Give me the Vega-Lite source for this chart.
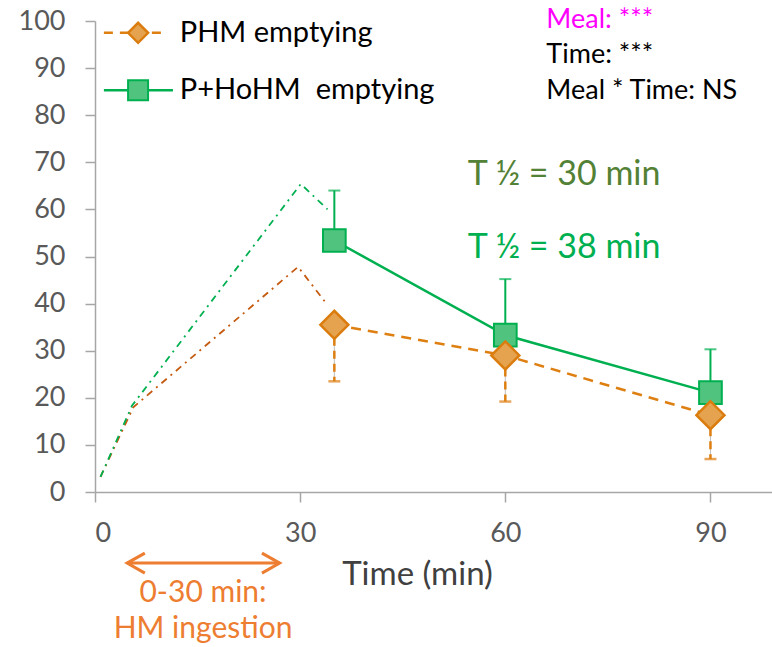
{
  "$schema": "https://vega.github.io/schema/vega-lite/v6.json",
  "width": 677,
  "height": 471,
  "autosize": {"type": "none"},
  "padding": {"left": 95, "top": 21, "right": 0, "bottom": 155},
  "background": "white",
  "config": {
    "view": {"stroke": null},
    "font": "Lato",
    "axis": {
      "grid": false, "domain": true, "ticks": true,
      "domainColor": "#A6A6A6", "domainWidth": 1.5,
      "tickColor": "#A6A6A6", "tickWidth": 1.5, "tickSize": 10,
      "labelColor": "#595959", "labelFont": "Lato", "labelFontSize": 27,
      "titleFont": "Lato", "titleFontWeight": "normal", "titleColor": "#404040"
    },
    "axisX": {"labelPadding": 18},
    "axisY": {"labelPadding": 20}
  },
  "datasets": {
    "early": [
      {"series": "PHM", "t": 0.8, "v": 3.2},
      {"series": "PHM", "t": 5.6, "v": 18},
      {"series": "PHM", "t": 29.7, "v": 47.8},
      {"series": "PHM", "t": 34, "v": 39.7},
      {"series": "P+HoHM", "t": 0.8, "v": 3.2},
      {"series": "P+HoHM", "t": 5.4, "v": 18.3},
      {"series": "P+HoHM", "t": 30.1, "v": 65.4},
      {"series": "P+HoHM", "t": 34, "v": 60}
    ],
    "main": [
      {"series": "PHM", "t": 35, "v": 35.5, "err": 23.5},
      {"series": "PHM", "t": 60, "v": 29, "err": 19.2},
      {"series": "PHM", "t": 90, "v": 16.3, "err": 7},
      {"series": "P+HoHM", "t": 35, "v": 53.4, "err": 64},
      {"series": "P+HoHM", "t": 60, "v": 33.3, "err": 45.2},
      {"series": "P+HoHM", "t": 90, "v": 21.1, "err": 30.3}
    ],
    "caps": [
      {"series": "PHM", "t": 35, "v": 23.5},
      {"series": "PHM", "t": 60, "v": 19.2},
      {"series": "PHM", "t": 90, "v": 7},
      {"series": "P+HoHM", "t": 35, "v": 64},
      {"series": "P+HoHM", "t": 60, "v": 45.2},
      {"series": "P+HoHM", "t": 90, "v": 30.3}
    ],
    "legendLines": [
      {"series": "PHM", "t": 1.3, "t2": 10.5, "v": 97.5},
      {"series": "P+HoHM", "t": 1.3, "t2": 11.4, "v": 85.3}
    ],
    "legendMarks": [
      {"series": "PHM", "t": 6.3, "v": 97.5},
      {"series": "P+HoHM", "t": 6.3, "v": 85.3}
    ],
    "legendText": [
      {"t": 12.4, "v": 97.5, "label": "PHM emptying"},
      {"t": 12.4, "v": 85.3, "label": "P+HoHM\u00a0\u00a0emptying"}
    ],
    "stats": [
      {"t": 66, "v": 100.2, "label": "Meal: ***", "kind": "meal"},
      {"t": 66, "v": 92.8, "label": "Time: ***", "kind": "other"},
      {"t": 66, "v": 85.1, "label": "Meal * Time: NS", "kind": "other"}
    ],
    "thalf": [
      {"t": 54.5, "v": 67.3, "label": "T ½ = 30 min", "series": "PHM"},
      {"t": 54.5, "v": 51.8, "label": "T ½ = 38 min", "series": "P+HoHM"}
    ],
    "arrow": [
      {"t": 4.7, "t2": 27, "v": -15.1}
    ],
    "arrowLeft": [
      {"t": 4.7, "v": -15.1}
    ],
    "arrowRight": [
      {"t": 27, "v": -15.1}
    ],
    "ingest": [
      {"t": 15.8, "v": -21.4, "label": "0-30 min:"},
      {"t": 15.8, "v": -29.1, "label": "HM ingestion"}
    ]
  },
  "encoding": {
    "x": {
      "field": "t", "type": "quantitative",
      "scale": {"domain": [0, 99], "nice": false, "zero": false},
      "axis": {
        "values": [0, 30, 60, 90],
        "title": "Time (min)", "titleFontSize": 33,
        "titleX": 322, "titleY": 92, "titleBaseline": "alphabetic", "titleAnchor": "middle", "titleAlign": "center"
      }
    },
    "y": {
      "field": "v", "type": "quantitative",
      "scale": {"domain": [0, 100], "nice": false, "zero": false},
      "axis": {
        "values": [0, 10, 20, 30, 40, 50, 60, 70, 80, 90, 100], "title": null
      }
    }
  },
  "layer": [
    {
      "data": {"name": "early"},
      "transform": [{"filter": "datum.series == 'PHM'"}],
      "mark": {"type": "line", "color": "#C55A11", "strokeWidth": 1.8, "strokeDash": [7, 5, 2, 5]}
    },
    {
      "data": {"name": "early"},
      "transform": [{"filter": "datum.series == 'P+HoHM'"}],
      "mark": {"type": "line", "color": "#00B050", "strokeWidth": 1.8, "strokeDash": [7, 5, 2, 5]}
    },
    {
      "data": {"name": "main"},
      "transform": [{"filter": "datum.series == 'PHM'"}],
      "mark": {"type": "rule", "color": "#BFBFBF", "strokeWidth": 1},
      "encoding": {"y2": {"field": "err"}}
    },
    {
      "data": {"name": "main"},
      "transform": [{"filter": "datum.series == 'PHM'"}],
      "mark": {"type": "rule", "color": "#DE7F12", "strokeWidth": 2.5, "strokeDash": [8, 5]},
      "encoding": {"y2": {"field": "err"}}
    },
    {
      "data": {"name": "caps"},
      "transform": [{"filter": "datum.series == 'PHM'"}],
      "mark": {"type": "tick", "orient": "horizontal", "color": "#DE7F12", "size": 12, "thickness": 2.5}
    },
    {
      "data": {"name": "main"},
      "transform": [{"filter": "datum.series == 'P+HoHM'"}],
      "mark": {"type": "rule", "color": "#00B050", "strokeWidth": 2},
      "encoding": {"y2": {"field": "err"}}
    },
    {
      "data": {"name": "caps"},
      "transform": [{"filter": "datum.series == 'P+HoHM'"}],
      "mark": {"type": "tick", "orient": "horizontal", "color": "#00B050", "size": 12, "thickness": 2}
    },
    {
      "data": {"name": "main"},
      "transform": [{"filter": "datum.series == 'PHM'"}],
      "mark": {"type": "line", "color": "#DE7F12", "strokeWidth": 2.5, "strokeDash": [10, 7]}
    },
    {
      "data": {"name": "main"},
      "transform": [{"filter": "datum.series == 'P+HoHM'"}],
      "mark": {"type": "line", "color": "#00B050", "strokeWidth": 2.5}
    },
    {
      "data": {"name": "main"},
      "transform": [{"filter": "datum.series == 'P+HoHM'"}],
      "mark": {"type": "point", "shape": "square", "filled": true, "size": 515, "fill": "#50C47F", "stroke": "#00B050", "strokeWidth": 2, "opacity": 1}
    },
    {
      "data": {"name": "main"},
      "transform": [{"filter": "datum.series == 'PHM'"}],
      "mark": {"type": "point", "shape": "diamond", "filled": true, "size": 784, "fill": "#E5A350", "stroke": "#DB7C0E", "strokeWidth": 2.5, "opacity": 1}
    },
    {
      "data": {"name": "legendLines"},
      "transform": [{"filter": "datum.series == 'PHM'"}],
      "mark": {"type": "rule", "color": "#DE7F12", "strokeWidth": 2.5, "strokeDash": [9, 7]},
      "encoding": {"x2": {"field": "t2"}}
    },
    {
      "data": {"name": "legendLines"},
      "transform": [{"filter": "datum.series == 'P+HoHM'"}],
      "mark": {"type": "rule", "color": "#00B050", "strokeWidth": 2.5},
      "encoding": {"x2": {"field": "t2"}}
    },
    {
      "data": {"name": "legendMarks"},
      "transform": [{"filter": "datum.series == 'PHM'"}],
      "mark": {"type": "point", "shape": "diamond", "filled": true, "size": 400, "fill": "#E5A350", "stroke": "#DB7C0E", "strokeWidth": 2.5, "opacity": 1}
    },
    {
      "data": {"name": "legendMarks"},
      "transform": [{"filter": "datum.series == 'P+HoHM'"}],
      "mark": {"type": "point", "shape": "square", "filled": true, "size": 400, "fill": "#50C47F", "stroke": "#00B050", "strokeWidth": 2, "opacity": 1}
    },
    {
      "data": {"name": "legendText"},
      "mark": {"type": "text", "align": "left", "baseline": "middle", "font": "Lato", "fontSize": 29, "color": "#000000"},
      "encoding": {"text": {"field": "label"}}
    },
    {
      "data": {"name": "stats"},
      "transform": [{"filter": "datum.kind == 'meal'"}],
      "mark": {"type": "text", "align": "left", "baseline": "middle", "font": "Lato", "fontSize": 27, "color": "#FF00FF"},
      "encoding": {"text": {"field": "label"}}
    },
    {
      "data": {"name": "stats"},
      "transform": [{"filter": "datum.kind == 'other'"}],
      "mark": {"type": "text", "align": "left", "baseline": "middle", "font": "Lato", "fontSize": 27, "color": "#000000"},
      "encoding": {"text": {"field": "label"}}
    },
    {
      "data": {"name": "thalf"},
      "transform": [{"filter": "datum.series == 'PHM'"}],
      "mark": {"type": "text", "align": "left", "baseline": "middle", "font": "Lato", "fontSize": 34, "color": "#538135"},
      "encoding": {"text": {"field": "label"}}
    },
    {
      "data": {"name": "thalf"},
      "transform": [{"filter": "datum.series == 'P+HoHM'"}],
      "mark": {"type": "text", "align": "left", "baseline": "middle", "font": "Lato", "fontSize": 34, "color": "#00B050"},
      "encoding": {"text": {"field": "label"}}
    },
    {
      "data": {"name": "arrow"},
      "mark": {"type": "rule", "color": "#ED7D31", "strokeWidth": 3},
      "encoding": {"x2": {"field": "t2"}}
    },
    {
      "data": {"name": "arrowLeft"},
      "mark": {"type": "point", "shape": "M1.77,-1L0,0L1.77,1", "filled": false, "size": 400, "stroke": "#ED7D31", "strokeWidth": 3, "opacity": 1}
    },
    {
      "data": {"name": "arrowRight"},
      "mark": {"type": "point", "shape": "M-1.77,-1L0,0L-1.77,1", "filled": false, "size": 400, "stroke": "#ED7D31", "strokeWidth": 3, "opacity": 1}
    },
    {
      "data": {"name": "ingest"},
      "mark": {"type": "text", "align": "center", "baseline": "middle", "font": "Lato", "fontSize": 30, "color": "#ED7D31"},
      "encoding": {"text": {"field": "label"}}
    }
  ]
}
